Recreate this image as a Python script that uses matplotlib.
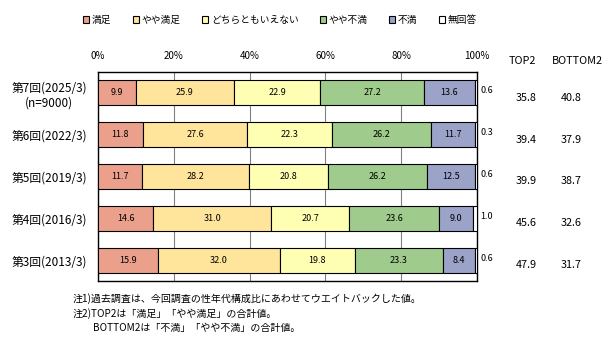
import matplotlib
matplotlib.use("Agg")
import matplotlib.pyplot as plt
import numpy as np

plt.rcParams["font.family"] = ["Noto Sans CJK JP", "DejaVu Sans"]

# ── data ──────────────────────────────────────────────────────────────────────
rows = ["第7回(2025/3)\n(n=9000)", "第6回(2022/3)", "第5回(2019/3)",
        "第4回(2016/3)", "第3回(2013/3)"]
categories = ["満足", "やや満足", "どちらともいえない", "やや不満", "不満", "無回答"]

manzoku      = [9.9, 11.8, 11.7, 14.6, 15.9]
yaya_manzoku = [25.9, 27.6, 28.2, 31.0, 32.0]
dochira      = [22.9, 22.3, 20.8, 20.7, 19.8]
yaya_fuman   = [27.2, 26.2, 26.2, 23.6, 23.3]
fuman        = [13.6, 11.7, 12.5, 9.0, 8.4]
mukaito      = [0.6, 0.3, 0.6, 1.0, 0.6]

top2    = [35.8, 39.4, 39.9, 45.6, 47.9]
bottom2 = [40.8, 37.9, 38.7, 32.6, 31.7]

ticks = [0, 20, 40, 60, 80, 100]
notes = ["注1)過去調査は、今回調査の性年代構成比にあわせてウエイトバックした値。",
         "注2)TOP2は「満足」「やや満足」の合計値。",
         "　　BOTTOM2は「不満」「やや不満」の合計値。"]

colors = ["#EBA08C", "#FFE59B", "#FFFFB4", "#9FCB8C", "#9CA3C8", "#FFFFFF"]

# ── figure ────────────────────────────────────────────────────────────────────
W, H = 609, 343
fig = plt.figure(figsize=(W / 100, H / 100), dpi=100)
fig.patch.set_facecolor("white")

def fx(px):
    return px / W

def fy(py):
    return 1 - py / H

ax = fig.add_axes([fx(98), fy(281), fx(477) - fx(98), fy(72) - fy(281)])

series = [manzoku, yaya_manzoku, dochira, yaya_fuman, fuman, mukaito]
y = np.arange(len(rows))
left = np.zeros(len(rows))
containers = []
for vals, col, name in zip(series, colors, categories):
    c = ax.barh(y, vals, left=left, height=0.6, color=col, edgecolor="black",
                linewidth=0.8, label=name, zorder=3)
    containers.append(c)
    left += np.array(vals)

for c, vals in zip(containers[:5], series[:5]):
    ax.bar_label(c, labels=[f"{v:.1f}" for v in vals], label_type="center",
                 fontsize=6.5, zorder=4)

# 無回答 outside the frame
for yi, v in zip(y, mukaito):
    ax.annotate(f"{v:.1f}", xy=(100, yi), xytext=(2.5, 1.5),
                textcoords="offset points", ha="left", va="center",
                fontsize=6.5, annotation_clip=False)

ax.set_xlim(0, 100)
ax.set_ylim(len(rows) - 0.5, -0.5)
ax.set_xticks(ticks)
ax.set_xticklabels([f"{t}%" for t in ticks], fontsize=7)
ax.xaxis.tick_top()
ax.tick_params(axis="x", length=0, pad=8)
ax.set_yticks(y)
ax.set_yticklabels(rows, fontsize=8.5, multialignment="center")
ax.tick_params(axis="y", length=0, pad=8)
ax.grid(axis="x", color="#808080", linewidth=0.8, zorder=0)
for sp in ax.spines.values():
    sp.set_color("black")
    sp.set_linewidth(1.0)

# TOP2 / BOTTOM2 columns
fig.text(fx(522), fy(61), "TOP2", ha="center", va="center", fontsize=7.8)
fig.text(fx(577), fy(61), "BOTTOM2", ha="center", va="center", fontsize=7.8)
for yi, t, b in zip(y, top2, bottom2):
    ax.annotate(f"{t:.1f}", xy=(1, yi), xycoords=("axes fraction", "data"),
                xytext=(49, -5), textcoords="offset pixels",
                ha="center", va="center", fontsize=7.8, annotation_clip=False)
    ax.annotate(f"{b:.1f}", xy=(1, yi), xycoords=("axes fraction", "data"),
                xytext=(94, -5), textcoords="offset pixels",
                ha="center", va="center", fontsize=7.8, annotation_clip=False)

# legend
fig.legend(handles=containers, labels=categories, loc="center",
           bbox_to_anchor=(fx(280), fy(20)), ncol=6, frameon=False,
           fontsize=7, handlelength=0.6, handleheight=0.6, handletextpad=0.3,
           columnspacing=2.2, borderaxespad=0)

# notes
fig.text(fx(73), fy(299), notes[0], ha="left", va="center", fontsize=7.2)
fig.text(fx(73), fy(314), notes[1], ha="left", va="center", fontsize=7.2)
fig.text(fx(73), fy(328), notes[2], ha="left", va="center", fontsize=7.2)

fig.savefig("out.png", dpi=100, facecolor="white")
